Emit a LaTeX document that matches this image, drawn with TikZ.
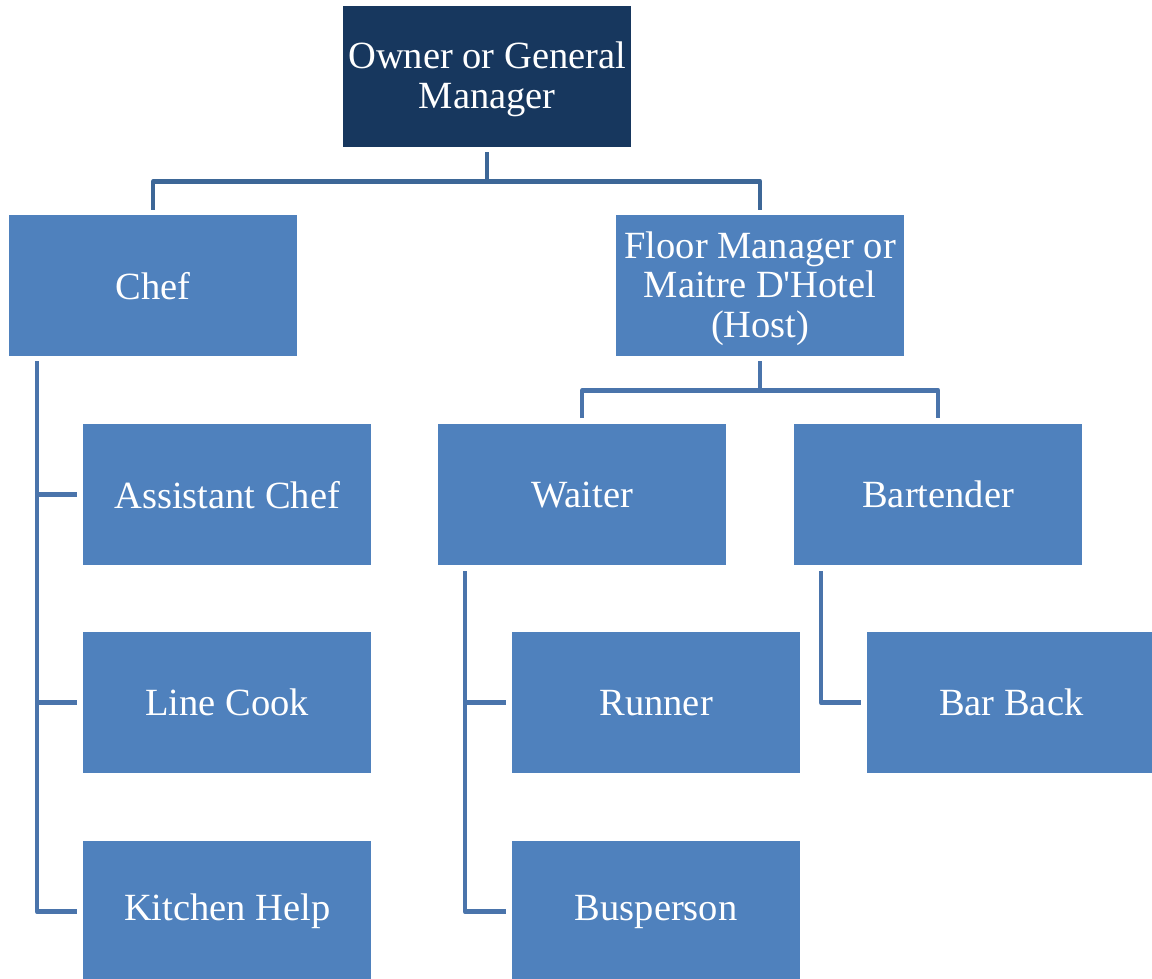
\documentclass[tikz,border=0pt]{standalone}
\usepackage{fontspec}
\setmainfont{Liberation Serif}[Ligatures=TeXOff]
\definecolor{boxblue}{HTML}{4F81BD}
\definecolor{navy}{HTML}{17375E}
\definecolor{linetop}{HTML}{3D6797}
\definecolor{linemid}{HTML}{4A74AB}
\newcommand{\multiline}[1]{\raisebox{-4pt}[\height][\depth]{\begin{tabular}{@{}c@{}}#1\end{tabular}}}
\begin{document}
\begin{tikzpicture}[x=1pt,y=-1pt,
  box/.style={fill=boxblue, draw=none, minimum width=288pt, minimum height=141pt, anchor=north west,
    inner sep=0pt, text=white, align=center, font=\fontsize{38.5}{39.5}\selectfont},
  topbox/.style={box, fill=navy},
  conn/.style={draw=linemid, line width=4.5pt, line join=round},
  conntop/.style={draw=linetop, line width=4.5pt, line join=round}]
\useasboundingbox (0,0) rectangle (1152,979);
\node[topbox] (owner) at (343,6) {\multiline{Owner or General\\Manager}};
\node[box] (chef) at (9,215) {Chef};
\node[box] (floor) at (616,215) {\multiline{Floor Manager or\\Maitre D'Hotel\\(Host)}};
\node[box] (ac) at (83,424) {Assistant Chef};
\node[box] (lc) at (83,632) {Line Cook};
\node[box] (kh) at (83,841) {Kitchen Help};
\node[box] (waiter) at (438,424) {Waiter};
\node[box] (bart) at (794,424) {Bartender};
\node[box] (runner) at (512,632) {Runner};
\node[box] (bus) at (512,841) {Busperson};
\node[box] (barback) at (867,632) {Bar Back};
% owner level
\coordinate (ownerbus) at ([yshift=-34pt]owner.south);
\draw[conntop] ([yshift=-5pt]owner.south) -- (ownerbus);
\draw[conntop] ([yshift=5pt]chef.north) |- (ownerbus) -| ([yshift=5pt]floor.north);
% floor manager level
\coordinate (floorbus) at ([yshift=-34pt]floor.south);
\draw[conn] ([yshift=-5pt]floor.south) -- (floorbus);
\draw[conn] ([yshift=6pt]waiter.north) |- (floorbus) -| ([yshift=6pt]bart.north);
% chef children
\coordinate (chefrail) at ([xshift=28pt,yshift=-5pt]chef.south west);
\draw[conn] (chefrail) |- ([xshift=-6pt]kh.west);
\draw[conn] (chefrail |- ac.west) -- ([xshift=-6pt]ac.west);
\draw[conn] (chefrail |- lc.west) -- ([xshift=-6pt]lc.west);
% waiter children
\coordinate (waitrail) at ([xshift=27pt,yshift=-6pt]waiter.south west);
\draw[conn] (waitrail) |- ([xshift=-6pt]bus.west);
\draw[conn] (waitrail |- runner.west) -- ([xshift=-6pt]runner.west);
% bartender children
\coordinate (bartrail) at ([xshift=27pt,yshift=-6pt]bart.south west);
\draw[conn] (bartrail) |- ([xshift=-6pt]barback.west);
\end{tikzpicture}
\end{document}
